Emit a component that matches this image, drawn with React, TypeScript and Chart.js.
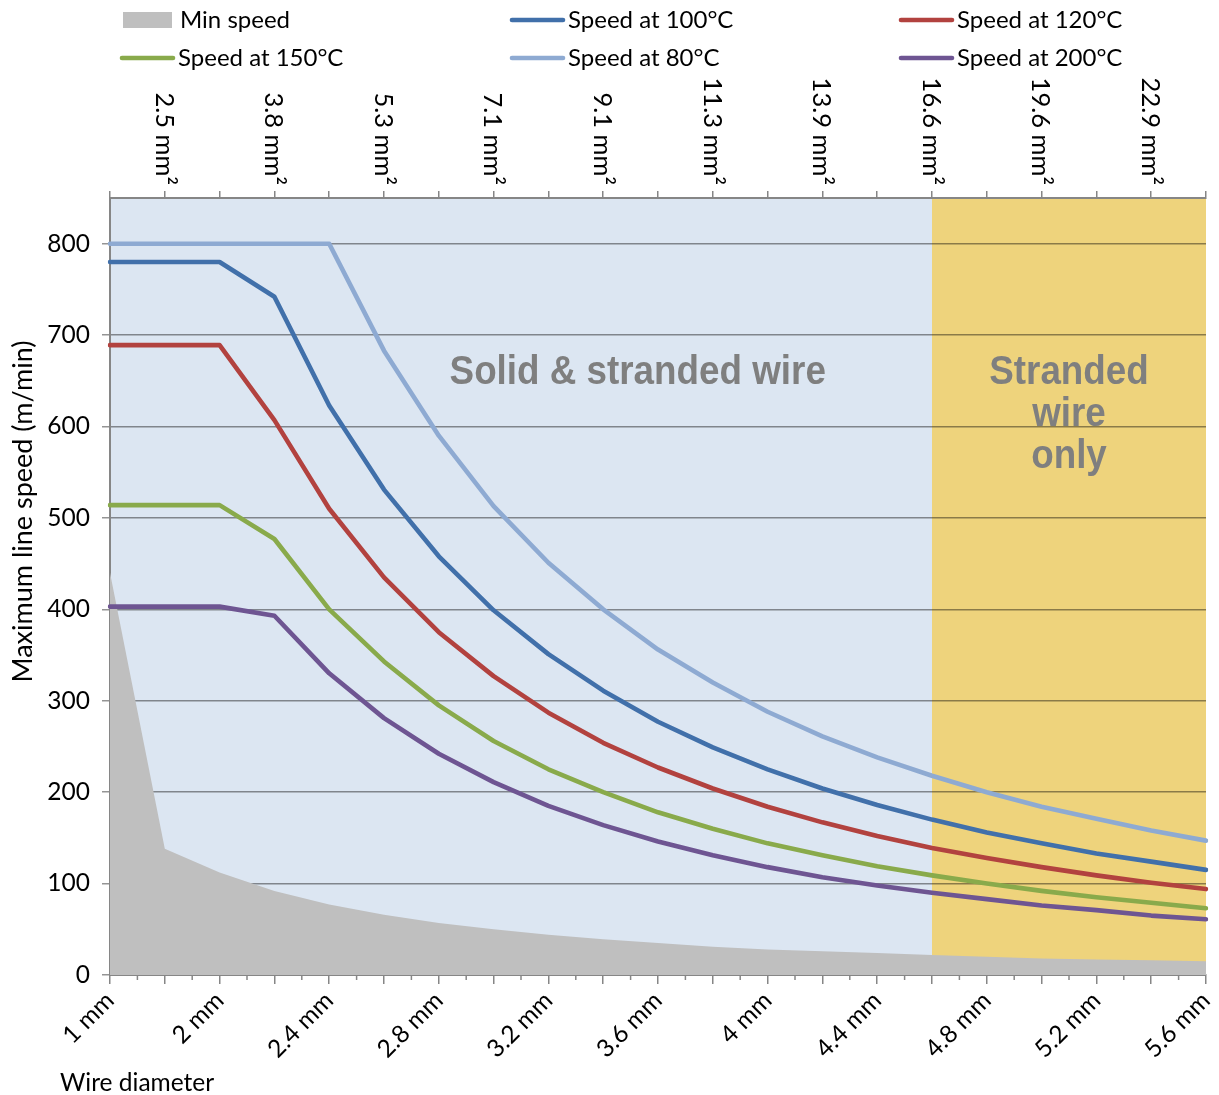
import React, { useEffect, useRef } from 'react';
import { Chart, registerables } from 'chart.js';

Chart.register(...registerables);

// ---------- data ----------
const diameterLabels = [
  '1 mm', '1.8 mm', '2 mm', '2.2 mm', '2.4 mm', '2.6 mm', '2.8 mm', '3 mm', '3.2 mm', '3.4 mm', '3.6 mm',
  '3.8 mm', '4 mm', '4.2 mm', '4.4 mm', '4.6 mm', '4.8 mm', '5 mm', '5.2 mm', '5.4 mm', '5.6 mm',
];
const crossSectionLabels = [
  '', '2.5 mm²', '', '3.8 mm²', '', '5.3 mm²', '', '7.1 mm²', '', '9.1 mm²', '',
  '11.3 mm²', '', '13.9 mm²', '', '16.6 mm²', '', '19.6 mm²', '', '22.9 mm²', '',
];
const yTickValues = [0, 100, 200, 300, 400, 500, 600, 700, 800];
const strandedOnlyFrom = '4.6 mm';

const minSpeed = [440, 138, 112, 92, 77, 66, 57, 50, 44, 39, 35, 31, 28, 26, 24, 22, 20, 18, 17, 16, 15];
const speed100 = [780, 780, 780, 742, 623, 531, 458, 399, 351, 311, 277, 249, 225, 204, 186, 170, 156, 144, 133, 124, 115];
const speed120 = [689, 689, 689, 607, 510, 435, 375, 327, 287, 254, 227, 204, 184, 167, 152, 139, 128, 118, 109, 101, 94];
const speed150 = [514, 514, 514, 477, 400, 343, 295, 256, 225, 200, 178, 160, 144, 131, 119, 109, 100, 92, 85, 79, 73];
const speed80 = [800, 800, 800, 800, 800, 683, 590, 513, 451, 400, 356, 320, 288, 261, 238, 218, 200, 184, 171, 158, 147];
const speed200 = [403, 403, 403, 393, 330, 281, 242, 211, 185, 164, 146, 131, 118, 107, 98, 90, 83, 76, 71, 65, 61];

const seriesNames = ['Min speed', 'Speed at 100°C', 'Speed at 120°C', 'Speed at 150°C', 'Speed at 80°C', 'Speed at 200°C'];
const seriesColors = ['#bfbfbf', '#4170aa', '#b2423f', '#89aa4b', '#8eaad2', '#6e5592'];

const regionTexts = ['Solid & stranded wire'];
const strandedTexts = ['Stranded', 'wire', 'only'];

// ---------- styles ----------
const FONT = 'Lato, "Open Sans", sans-serif';
const AXIS_GRAY = '#868686';

const lineDataset = (label: string, data: number[], color: string) => ({
  type: 'line' as const,
  label,
  data,
  borderColor: color,
  backgroundColor: color,
  borderWidth: 4.6,
  borderCapStyle: 'round' as const,
  borderJoinStyle: 'round' as const,
  pointRadius: 0,
  tension: 0,
  fill: false,
  order: 0,
});

const backgroundPlugin = {
  id: 'regionBackground',
  beforeDraw(chart: any) {
    const { ctx, chartArea: a, scales } = chart;
    const split = scales.x.getPixelForValue(diameterLabels.indexOf(strandedOnlyFrom));
    ctx.save();
    ctx.fillStyle = '#dce6f2';
    ctx.fillRect(a.left, a.top, split - a.left, a.bottom - a.top);
    ctx.fillStyle = '#eed37c';
    ctx.fillRect(split, a.top, a.right - split, a.bottom - a.top);
    ctx.restore();
  },
  beforeDatasetsDraw(chart: any) {
    const { ctx, chartArea: a, scales } = chart;
    const split = scales.x.getPixelForValue(diameterLabels.indexOf(strandedOnlyFrom));
    ctx.save();
    ctx.fillStyle = '#7f7f7f';
    ctx.font = `bold 40px "Liberation Sans", Arial, sans-serif`;
    ctx.textAlign = 'center';
    ctx.textBaseline = 'middle';
    const drawText = (t: string, cx: number, cy: number) => {
      ctx.save();
      ctx.translate(cx, cy);
      ctx.scale(0.92, 1);
      ctx.fillText(t, 0, 0);
      ctx.restore();
    };
    const yTop = scales.y.getPixelForValue(659);
    drawText(regionTexts[0], scales.x.getPixelForValue(9.63), yTop);
    const cx2 = (split + a.right) / 2;
    strandedTexts.forEach((t, i) => drawText(t, cx2, yTop + i * 42));
    ctx.restore();
  },
  afterDraw(chart: any) {
    const { ctx, chartArea: a, scales } = chart;
    const x = scales.x;
    ctx.save();
    // minor ticks on bottom axis
    ctx.strokeStyle = AXIS_GRAY;
    ctx.lineWidth = 1.5;
    for (let i = 0; i < diameterLabels.length - 1; i++) {
      const xm = (x.getPixelForValue(i) + x.getPixelForValue(i + 1)) / 2;
      ctx.beginPath();
      ctx.moveTo(xm, a.bottom);
      ctx.lineTo(xm, a.bottom + 5);
      ctx.stroke();
    }
    // top cross-section labels
    ctx.fillStyle = '#000';
    ctx.font = `25.5px ${FONT}`;
    ctx.textAlign = 'right';
    ctx.textBaseline = 'middle';
    crossSectionLabels.forEach((t, i) => {
      if (!t) return;
      const px = scales.x2.getPixelForValue(i);
      ctx.save();
      ctx.translate(px - 1, a.top - 13);
      ctx.rotate(Math.PI / 2);
      ctx.fillText(t, 0, 0);
      ctx.restore();
    });
    // y axis title
    ctx.save();
    ctx.font = `27px ${FONT}`;
    ctx.translate(23, (a.top + a.bottom) / 2 - 75);
    ctx.rotate(-Math.PI / 2);
    ctx.textAlign = 'center';
    ctx.fillText('Maximum line speed (m/min)', 0, 0);
    ctx.restore();
    // x axis title
    ctx.font = `24.5px ${FONT}`;
    ctx.textAlign = 'left';
    ctx.fillText('Wire diameter', a.left - 50, chart.height - 12);
    // legend
    ctx.font = `24px ${FONT}`;
    const colX = [120, 510, 899];
    const rowY = [20, 58];
    chart.data.datasets.forEach((ds: any, i: number) => {
      const cx = colX[i % 3];
      const cy = rowY[Math.floor(i / 3)];
      if (ds.fill) {
        ctx.fillStyle = ds.backgroundColor;
        ctx.fillRect(cx + 3, cy - 8, 49, 16);
      } else {
        ctx.strokeStyle = ds.borderColor;
        ctx.lineWidth = 4.6;
        ctx.lineCap = 'round';
        ctx.beginPath();
        ctx.moveTo(cx + 2, cy);
        ctx.lineTo(cx + 53, cy);
        ctx.stroke();
      }
      ctx.fillStyle = '#000';
      ctx.textAlign = 'left';
      ctx.fillText(ds.label, cx + (ds.fill ? 60 : 58), cy);
    });
    ctx.restore();
  },
};

export default function App() {
  const ref = useRef<HTMLCanvasElement>(null);
  useEffect(() => {
    const chart = new Chart(ref.current as HTMLCanvasElement, {
      type: 'line',
      data: {
        labels: diameterLabels,
        datasets: [
          {
            type: 'line',
            label: seriesNames[0],
            data: minSpeed,
            borderWidth: 0,
            borderColor: seriesColors[0],
            backgroundColor: seriesColors[0],
            pointRadius: 0,
            tension: 0,
            fill: 'origin',
            order: 10,
          },
          lineDataset(seriesNames[1], speed100, seriesColors[1]),
          lineDataset(seriesNames[2], speed120, seriesColors[2]),
          lineDataset(seriesNames[3], speed150, seriesColors[3]),
          lineDataset(seriesNames[4], speed80, seriesColors[4]),
          lineDataset(seriesNames[5], speed200, seriesColors[5]),
        ] as any,
      },
      options: {
        responsive: false,
        animation: false,
        devicePixelRatio: 1,
        layout: { padding: { left: 0, right: 13, top: 0, bottom: 0 } },
        plugins: { legend: { display: false }, tooltip: { enabled: false } },
        scales: {
          x: {
            type: 'category',
            position: 'bottom',
            offset: false,
            grid: { drawOnChartArea: false, tickLength: 9, color: AXIS_GRAY, lineWidth: 1.5 },
            border: { color: AXIS_GRAY, width: 2 },
            ticks: {
              autoSkip: false,
              maxRotation: 45,
              minRotation: 45,
              padding: 2,
              color: '#000',
              font: { family: FONT, size: 24.5 },
              callback: (_v: any, i: number) => (i % 2 === 0 ? diameterLabels[i] : ''),
            },
            afterFit: (s: any) => {
              s.height = 120;
              s.paddingLeft = 0;
              s.paddingRight = 0;
            },
          },
          x2: {
            type: 'category',
            position: 'top',
            labels: diameterLabels,
            offset: false,
            grid: { drawOnChartArea: false, tickLength: 7, color: AXIS_GRAY, lineWidth: 1.5 },
            border: { color: AXIS_GRAY, width: 2 },
            ticks: { display: false },
            afterFit: (s: any) => {
              s.height = 198;
              s.paddingLeft = 0;
              s.paddingRight = 0;
            },
          },
          y: {
            type: 'linear',
            min: 0,
            max: 850,
            afterBuildTicks: (s: any) => {
              s.ticks = yTickValues.map((v) => ({ value: v }));
            },
            ticks: {
              stepSize: 100,
              padding: 12,
              color: '#000',
              font: { family: FONT, size: 24.5 },
            },
            grid: { color: 'rgba(0,0,0,0.42)', lineWidth: 1.5, tickLength: 8 },
            border: { color: AXIS_GRAY, width: 2 },
            afterFit: (s: any) => {
              s.width = 110;
            },
          },
        },
      } as any,
      plugins: [backgroundPlugin],
    });
    return () => chart.destroy();
  }, []);
  return (
    <div style={{ position: 'absolute', left: 0, top: 0, width: 1219, height: 1095, background: '#fff' }}>
      <canvas ref={ref} width={1219} height={1095} style={{ display: 'block', width: 1219, height: 1095 }} />
    </div>
  );
}
